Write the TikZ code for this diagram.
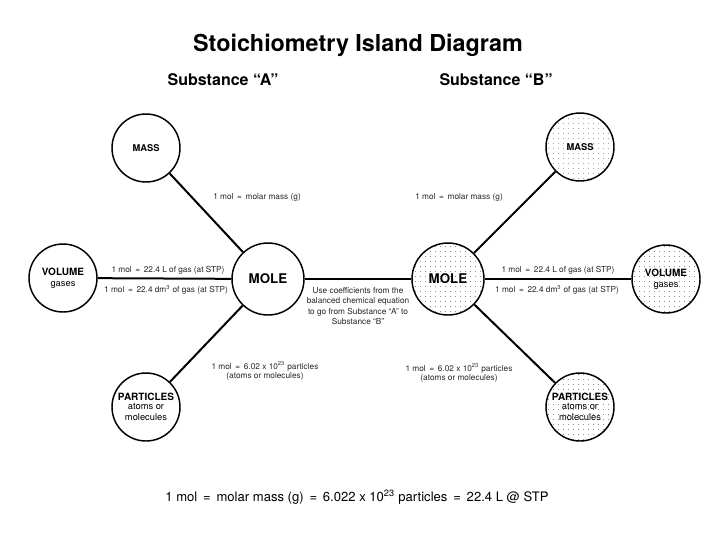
\documentclass[tikz,border=0pt]{standalone}
\usepackage{fontspec}
\setmainfont{TeX Gyre Heros}
\usetikzlibrary{patterns.meta}
\begin{document}
\begin{tikzpicture}[x=0.75pt,y=-0.75pt,
  isle/.style={circle,draw,line width=1.1pt,inner sep=0pt,align=center,font=\fontsize{7pt}{8pt}\selectfont},
  dotted isle/.style={isle,pattern={Dots[distance=4pt,radius=0.4pt]},pattern color=black!60},
  link/.style={line width=1.5pt},
  lbl/.style={font=\fontsize{6.2pt}{7.2pt}\selectfont,text=black!85,inner sep=0pt,align=center}]
\useasboundingbox (0,0) rectangle (720,540);
% islands A
\node[isle,minimum size=51pt] (massA) at (146,148) {\textbf{MASS}};
\node[isle,minimum size=51pt] (volA) at (63,278) {\fontsize{7.5pt}{9pt}\selectfont\textbf{VOLUME}\\gases};
\node[isle,minimum size=54pt] (moleA) at (268,279) {\fontsize{10pt}{12pt}\selectfont\textbf{MOLE}};
\node[isle,minimum size=51pt] (partA) at (146,407) {\fontsize{7.5pt}{10pt}\selectfont\textbf{PARTICLES}\\[-1pt]atoms or\\molecules};
% islands B
\node[dotted isle,minimum size=51pt] (massB) at (580,147) {\textbf{MASS}};
\node[dotted isle,minimum size=54pt] (moleB) at (448,279) {\fontsize{10pt}{12pt}\selectfont\textbf{MOLE}};
\node[dotted isle,minimum size=51pt] (volB) at (666,279) {\fontsize{7.5pt}{9pt}\selectfont\textbf{VOLUME}\\gases};
\node[dotted isle,minimum size=51pt] (partB) at (580,407) {\fontsize{7.5pt}{10pt}\selectfont\textbf{PARTICLES}\\[-1pt]atoms or\\molecules};
% connectors
\draw[link] (massA) -- (moleA);
\draw[link] (volA) -- (moleA);
\draw[link] (partA) -- (moleA);
\draw[link] (moleA) -- (moleB);
\draw[link] (massB) -- (moleB);
\draw[link] (volB) -- (moleB);
\draw[link] (partB) -- (moleB);
% labels
\node[lbl] (l1) at (257,197) {1 mol \,=\, molar mass (g)};
\node[lbl] (l2) at (168,270) {1 mol \,=\, 22.4 L of gas (at STP)};
\node[lbl] (l3) at (166,290) {1 mol \,=\, 22.4 dm\textsuperscript{3} of gas (at STP)};
\node[lbl] (l4) at (265,371) {1 mol \,=\, 6.02 x 10\textsuperscript{23} particles\\(atoms or molecules)};
\node[lbl] (l5) at (459,197) {1 mol \,=\, molar mass (g)};
\node[lbl] (l6) at (558,270) {1 mol \,=\, 22.4 L of gas (at STP)};
\node[lbl] (l7) at (557,290) {1 mol \,=\, 22.4 dm\textsuperscript{3} of gas (at STP)};
\node[lbl] (l8) at (459,373) {1 mol \,=\, 6.02 x 10\textsuperscript{23} particles\\(atoms or molecules)};
\node[lbl,font=\fontsize{6.2pt}{7.6pt}\selectfont] (l9) at (358,306) {Use coefficients from the\\balanced chemical equation\\to go from Substance ``A'' to\\Substance ``B''};
% titles
\node[font=\fontsize{17.5pt}{20pt}\selectfont\bfseries] (title) at (358,45) {Stoichiometry Island Diagram};
\node[font=\fontsize{12pt}{14pt}\selectfont\bfseries] (sa) at (223,80) {Substance ``A''};
\node[font=\fontsize{12pt}{14pt}\selectfont\bfseries] (sb) at (496,80) {Substance ``B''};
\node[font=\fontsize{9.8pt}{12pt}\selectfont] (eq) at (357,497) {1 mol \,=\, molar mass (g) \,=\, 6.022 x 10\textsuperscript{23} particles \,=\, 22.4 L @ STP};
\end{tikzpicture}
\end{document}
